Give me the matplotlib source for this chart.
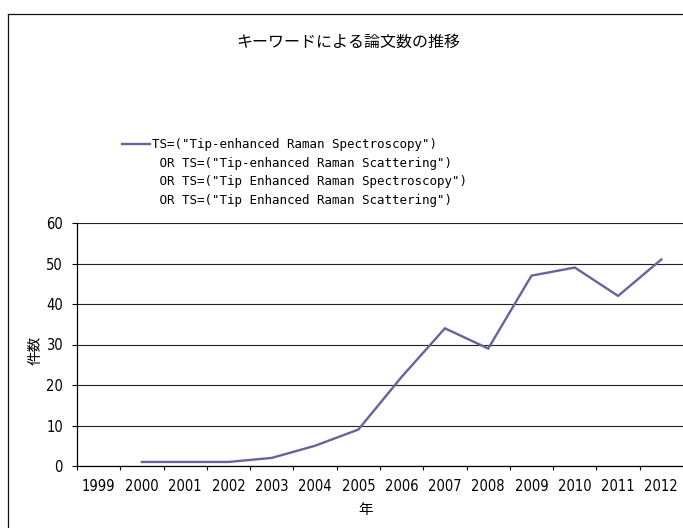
import matplotlib.pyplot as plt
import numpy as np
from matplotlib.lines import Line2D

# 件数 per year (1999 has no data)
years = ['1999', '2000', '2001', '2002', '2003', '2004', '2005',
         '2006', '2007', '2008', '2009', '2010', '2011', '2012']
data_years = ['2000', '2001', '2002', '2003', '2004', '2005', '2006',
              '2007', '2008', '2009', '2010', '2011', '2012']
counts = [1, 1, 1, 2, 5, 9, 22, 34, 29, 47, 49, 42, 51]

legend_lines = ['TS=("Tip-enhanced Raman Spectroscopy")',
                ' OR TS=("Tip-enhanced Raman Scattering")',
                ' OR TS=("Tip Enhanced Raman Spectroscopy")',
                ' OR TS=("Tip Enhanced Raman Scattering")']

title = 'キーワードによる論文数の推移'
xlab = '年'
ylab = '件数'

jp = ['Noto Sans CJK JP', 'DejaVu Sans']
W, H = 683, 528
col = '#64649e'

fig = plt.figure(figsize=(W / 100, H / 100), dpi=100)
ax = fig.add_axes([77 / W, 62 / H, 606 / W, 243 / H])

x = np.array([years.index(y) for y in data_years])
line, = ax.plot(x, counts, color=col, lw=1.7, solid_joinstyle='miter')

ax.set_xlim(-0.5, len(years) - 0.5)
ax.set_ylim(0, 60)
ax.set_yticks(np.arange(0, 61, 10))
ax.set_xticks(np.arange(len(years)))
ax.set_xticklabels(years)
ax.set_xticks(np.arange(len(years) + 1) - 0.5, minor=True)
for t in ax.get_xticklabels() + ax.get_yticklabels():
    t.set_family('DejaVu Sans')
    t.set_stretch('condensed')
    t.set_fontsize(10.5)

ax.tick_params(axis='x', which='major', length=0, pad=9.5)
ax.tick_params(axis='x', which='minor', length=3, width=0.8, direction='out')
ax.tick_params(axis='y', length=3.6, width=0.8, direction='out', pad=6.5)

ax.yaxis.grid(True, color='#222222', lw=0.8)
ax.set_axisbelow(True)
for s in ['top', 'right']:
    ax.spines[s].set_visible(False)
for s in ['left', 'bottom']:
    ax.spines[s].set_linewidth(0.9)
    ax.spines[s].set_color('black')

# 凡例
blank = Line2D([], [], color='none')
leg = fig.legend([line] + [blank] * 3, legend_lines,
                 loc='upper left', bbox_to_anchor=(122 / W, 1 - 138 / H),
                 frameon=False, handlelength=2.2, handletextpad=0.2,
                 labelspacing=0.45, borderaxespad=0, borderpad=0,
                 prop={'family': 'DejaVu Sans Mono', 'size': 9})

fig.text(348 / W, 1 - 42 / H, title, ha='center', va='center',
         family=jp, fontsize=11.5)
fig.text(366 / W, 1 - 510 / H, xlab, ha='center', va='center',
         family=jp, fontsize=10.5)
fig.text(36 / W, 1 - 350 / H, ylab, ha='center', va='center',
         rotation=90, family=jp, fontsize=10.5)

# 外枠
fig.add_artist(Line2D([8 / W, 8 / W], [0, 1 - 14 / H], color='#111111', lw=0.9))
fig.add_artist(Line2D([8 / W, 1], [1 - 14 / H, 1 - 14 / H], color='#111111', lw=0.9))

fig.savefig('out.png', dpi=100)
